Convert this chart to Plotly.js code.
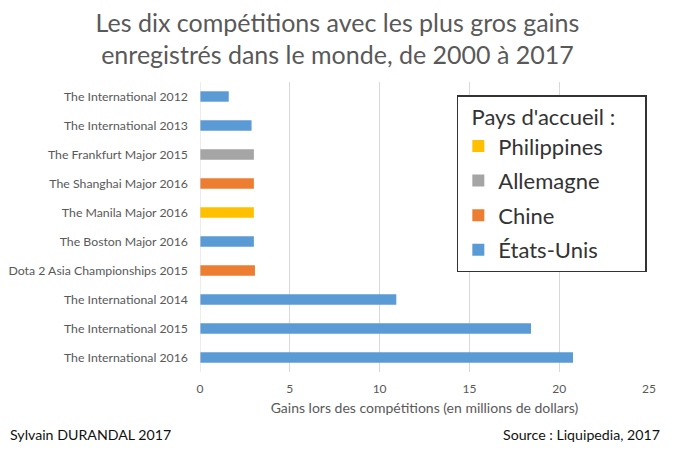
<!DOCTYPE html>
<html>
<head>
<meta charset="utf-8">
<script src="https://cdn.plot.ly/plotly-3.0.1.min.js"></script>
<style>html,body{margin:0;padding:0;background:#fff;}#chart{width:675px;height:450px;}</style>
</head>
<body>
<div id="chart"></div>
<script>
// Categories bottom-to-top
const categories = [
  "The International 2016",
  "The International 2015",
  "The International 2014",
  "Dota 2 Asia Championships 2015",
  "The Boston Major 2016",
  "The Manila Major 2016",
  "The Shanghai Major 2016",
  "The Frankfurt Major 2015",
  "The International 2013",
  "The International 2012"
];
const philippinesNames = ["The Manila Major 2016"];
const philippinesValues = [3.0];
const allemagneNames = ["The Frankfurt Major 2015"];
const allemagneValues = [3.0];
const chineNames = ["Dota 2 Asia Championships 2015", "The Shanghai Major 2016"];
const chineValues = [3.06, 3.0];
const usaNames = ["The International 2016", "The International 2015", "The International 2014", "The Boston Major 2016", "The International 2013", "The International 2012"];
const usaValues = [20.77, 18.43, 10.93, 3.0, 2.87, 1.6];
const xTicks = [0, 5, 10, 15, 20, 25];

const FONT = "Lato, 'Open Sans', sans-serif";
const GREY = "#595959";

function mk(name, ys, xs, color, grp) {
  return {type: "bar", orientation: "h", name: name, y: ys, x: xs, legendgroup: grp,
    marker: {color: color}, hoverinfo: "x+y"};
}
const traces = [
  mk("Philippines", philippinesNames, philippinesValues, "#ffc000", "g1"),
  mk("Allemagne", allemagneNames, allemagneValues, "#a5a5a5", "g2"),
  mk("Chine", chineNames, chineValues, "#ed7d31", "g3"),
  mk("États-Unis", usaNames, usaValues, "#5b9bd5", "g4")
];

const layout = {
  width: 675, height: 450,
  paper_bgcolor: "#fff", plot_bgcolor: "#fff",
  margin: {l: 200, r: 26, t: 82, b: 78},
  font: {family: FONT, color: GREY, size: 12},
  title: {text: "Les dix compétitions avec les plus gros gains<br>enregistrés dans le monde, de 2000 à 2017",
    font: {family: FONT, size: 25, color: GREY}, x: 0.5, xanchor: "center",
    yref: "container", y: 0.93, yanchor: "middle"},
  barmode: "overlay",
  bargap: 0.64,
  showlegend: true,
  legend: {
    x: 0.572, y: 0.955, xanchor: "left", yanchor: "top",
    bgcolor: "#fff", bordercolor: "#333", borderwidth: 1.5,
    font: {family: FONT, size: 22, color: "#333"},
    title: {text: "  Pays d'accueil :     ", font: {family: FONT, size: 22, color: "#333"}},
    traceorder: "grouped", tracegroupgap: 3, itemwidth: 30
  },
  xaxis: {
    range: [0, 25], tickvals: xTicks, ticktext: xTicks.map(String),
    showgrid: true, gridcolor: "#d9d9d9", gridwidth: 1, zeroline: false,
    showline: false, ticks: "", ticklabelstandoff: 8, tickfont: {size: 12, color: GREY},
    title: {text: "Gains lors des compétitions (en millions de dollars)", font: {size: 14, color: GREY}, standoff: 8},
    fixedrange: true
  },
  yaxis: {
    type: "category", categoryorder: "array", categoryarray: categories,
    range: [-0.5, 9.5], showgrid: false, zeroline: false, showline: false,
    ticks: "", ticklabelstandoff: 11, tickfont: {size: 12.3, color: GREY}, fixedrange: true
  },
  shapes: [{type: "line", xref: "x", yref: "paper", x0: 0, x1: 0, y0: 0, y1: 1, line: {color: "#d9d9d9", width: 1}}],
  annotations: [
    {text: "Sylvain DURANDAL 2017", xref: "paper", yref: "paper", x: -0.428, y: -0.215, xanchor: "left", yanchor: "middle", showarrow: false, font: {size: 14.2, color: "#111"}},
    {text: "Source : Liquipedia, 2017", xref: "paper", yref: "paper", x: 1.03, y: -0.215, xanchor: "right", yanchor: "middle", showarrow: false, font: {size: 14.2, color: "#111"}}
  ]
};
Plotly.newPlot("chart", traces, layout, {displayModeBar: false, staticPlot: true});
</script>
</body>
</html>
